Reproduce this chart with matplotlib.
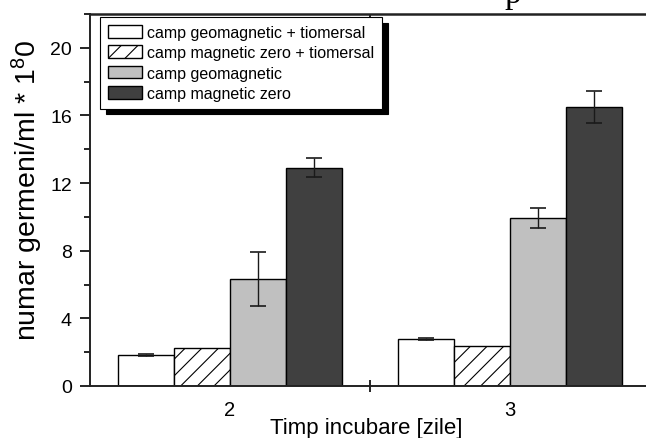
import matplotlib
matplotlib.use("Agg")
import matplotlib.pyplot as plt
import numpy as np
from matplotlib.ticker import MultipleLocator, FixedLocator

# incubation days and the four experimental conditions
days = [2, 3]
series_labels = [
    "camp geomagnetic + tiomersal",
    "camp magnetic zero + tiomersal",
    "camp geomagnetic",
    "camp magnetic zero",
]
geo_tiomersal = [1.82, 2.78]
zero_tiomersal = [2.27, 2.38]
geo = [6.33, 9.95]
zero = [12.92, 16.5]

geo_tiomersal_err = [0.05, 0.05]
zero_tiomersal_err = [0.0, 0.0]
geo_err = [1.6, 0.58]
zero_err = [0.55, 0.93]

values = [geo_tiomersal, zero_tiomersal, geo, zero]
errors = [geo_tiomersal_err, zero_tiomersal_err, geo_err, zero_err]
facecolors = ["white", "white", "#c0c0c0", "#404040"]
hatches = [None, "//", None, None]

plt.rcParams["font.family"] = ["Liberation Sans", "DejaVu Sans"]
plt.rcParams["hatch.linewidth"] = 0.8

W, H = 646, 439
fig = plt.figure(figsize=(W / 100, H / 100), dpi=100)

# axes box in pixel terms: left spine at x=90, zero line at y=387, top at y=15
ax = fig.add_axes([90 / W, (H - 387) / H, 560 / W, 372 / H])

bar_w = 0.2
x = np.array(days, dtype=float)
for i, (vals, errs) in enumerate(zip(values, errors)):
    offs = (i - 1.5) * bar_w
    ax.bar(x + offs, vals, width=bar_w, color=facecolors[i], edgecolor="black",
           linewidth=1.0, hatch=hatches[i], label=series_labels[i], zorder=2)
    errs = np.array(errs)
    keep = errs > 0
    if keep.any():
        ax.errorbar((x + offs)[keep], np.array(vals)[keep], yerr=errs[keep],
                    fmt="none", ecolor="#1a1a1a", elinewidth=1.0,
                    capsize=6, capthick=1.2, zorder=3)

ax.set_xlim(1.5, 3.5)
ax.set_ylim(0, 22)

for side in ["left", "bottom", "top", "right"]:
    ax.spines[side].set_linewidth(1.4)
    ax.spines[side].set_color("#222222")
ax.spines["top"].set_linewidth(1.8)

ax.yaxis.set_major_locator(MultipleLocator(4))
ax.yaxis.set_minor_locator(MultipleLocator(2))
ax.tick_params(axis="y", which="major", direction="out", length=7, width=1.2,
               labelsize=14, pad=6)
ax.tick_params(axis="y", which="minor", direction="out", length=4, width=1.2)

ax.set_xticks(days)
ax.set_xticklabels([str(d) for d in days])
ax.xaxis.set_minor_locator(FixedLocator([2.5]))
ax.tick_params(axis="x", which="major", length=0, labelsize=14.5, pad=10)
ax.tick_params(axis="x", which="minor", direction="inout", length=9, width=1.2,
               top=False)

# inward tick on the top frame
top = ax.secondary_xaxis("top")
top.set_xticks([2.5])
top.set_xticklabels([])
top.tick_params(direction="in", length=5, width=1.2)
top.spines["top"].set_visible(False)

fig.text(27 / W, 1 - 190 / H, r"numar germeni/ml * 1$\mathregular{^{8}}$0",
         rotation=90, ha="center", va="center", fontsize=20.5)
fig.text(366 / W, 1 - 429 / H, "Timp incubare [zile]", ha="center",
         va="center", fontsize=16)

# clipped title descender at the top edge
fig.text(513 / W, 1 - 3 / H, "p", ha="center", va="baseline", fontsize=24,
         family="Liberation Serif")

leg = ax.legend(loc="upper left", bbox_to_anchor=(100 / W, 1 - 18 / H),
                bbox_transform=fig.transFigure, borderaxespad=0,
                fontsize=11.5, frameon=True, fancybox=False,
                shadow={"ox": 4, "oy": -4, "facecolor": "black",
                        "edgecolor": "black", "alpha": 1.0},
                handlelength=2.1, handleheight=0.85, handletextpad=0.35,
                labelspacing=0.33, borderpad=0.5)
leg.get_frame().set_edgecolor("black")
leg.get_frame().set_linewidth(0.8)
leg.get_frame().set_alpha(1.0)

fig.savefig("out.png", dpi=100)
